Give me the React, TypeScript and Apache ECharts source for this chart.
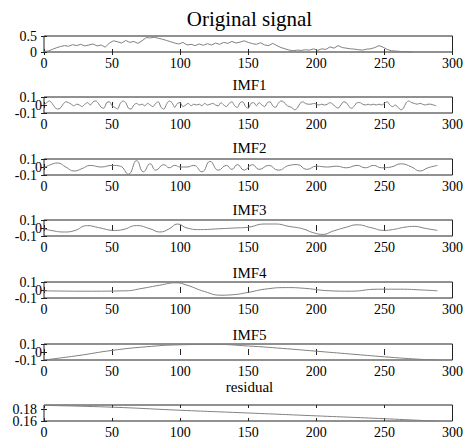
import React, { useEffect, useRef } from "react";
import * as echarts from "echarts";

const xTicks = [0, 50, 100, 150, 200, 250, 300];
const panelTitles = ["Original signal", "IMF1", "IMF2", "IMF3", "IMF4", "IMF5", "residual"];

const origStep = 3;
const origValues = [
  0.02, 0.03, 0.08, 0.13, 0.17, 0.2, 0.18, 0.23, 0.2, 0.24, 0.19, 0.22, 0.25, 0.19, 0.22, 0.15,
  0.28, 0.35, 0.32, 0.28, 0.36, 0.3, 0.33, 0.27, 0.35, 0.45, 0.44, 0.46, 0.43, 0.4, 0.36, 0.32,
  0.28, 0.25, 0.3, 0.22, 0.24, 0.2, 0.25, 0.21, 0.26, 0.22, 0.28, 0.24, 0.3, 0.27, 0.33, 0.28,
  0.31, 0.35, 0.3, 0.26, 0.24, 0.29, 0.22, 0.2, 0.27, 0.2, 0.14, 0.1, 0.06, 0.04, 0.06, 0.05,
  0.07, 0.06, 0.1, 0.05, 0.1, 0.08, 0.16, 0.12, 0.2, 0.14, 0.12, 0.1, 0.09, 0.07, 0.06, 0.09,
  0.1, 0.14, 0.2, 0.15, 0.08, 0.04, 0.03, 0.02, 0.01, 0.01, 0.0,
];

const imf1Step = 2;
const imf1Values = [
  0.0, 0.03, 0.05, 0.02, -0.03, -0.05, -0.04, 0.01, 0.04, 0.03, 0.01, -0.01, 0.01, 0.0, -0.02, 0.01,
  0.03, 0.0, 0.04, 0.05, 0.02, -0.03, -0.04, 0.03, 0.04, -0.01, -0.03, -0.05, 0.02, 0.05, 0.03, -0.04,
  -0.05, 0.0, 0.02, 0.0, 0.01, -0.01, 0.02, 0.0, -0.02, 0.02, 0.04, -0.03, -0.05, 0.01, 0.05, 0.03,
  -0.03, 0.02, 0.03, -0.02, 0.0, 0.02, -0.01, 0.01, 0.0, 0.01, -0.01, 0.02, 0.0, 0.01, 0.02, 0.0,
  -0.01, 0.03, 0.0, -0.02, 0.02, 0.04, -0.01, -0.03, 0.03, 0.04, -0.02, -0.04, 0.02, 0.03, -0.01, 0.03,
  0.0, -0.02, 0.03, 0.04, -0.01, -0.03, 0.02, 0.05, 0.04, 0.0, -0.02, -0.03, -0.06, -0.04, 0.02, 0.04,
  0.02, 0.01, 0.01, 0.02, 0.01, 0.0, 0.01, 0.0, 0.01, 0.03, 0.01, -0.02, -0.04, 0.0, 0.04, 0.03,
  -0.02, -0.04, -0.01, 0.03, 0.03, 0.01, 0.0, 0.01, 0.0, 0.01, 0.0, 0.01, 0.0, 0.02, 0.04, 0.0,
  -0.02, 0.0, -0.03, -0.06, -0.04, 0.03, 0.05, 0.03, 0.02, 0.01, 0.02, 0.01, 0.0, 0.01, 0.01, 0.0,
  -0.01,
];

const imf2X = [0, 5, 10, 16, 22, 28, 34, 42, 50, 56, 62, 68, 73, 78, 82, 88, 92, 96, 100, 105, 110, 116, 122, 128, 134, 138, 142, 147, 153, 158, 165, 172, 180, 186, 193, 200, 208, 215, 222, 230, 236, 242, 248, 255, 262, 270, 276, 282, 289];
const imf2Y = [-0.01, 0.03, 0.05, 0.0, -0.05, -0.02, 0.02, 0.0, 0.02, 0.01, -0.09, 0.08, -0.06, 0.04, -0.04, 0.03, -0.01, 0.02, 0.0, 0.0, 0.02, -0.06, 0.07, -0.04, 0.02, -0.03, 0.03, -0.04, 0.03, -0.03, 0.02, -0.04, 0.02, 0.03, -0.03, 0.01, 0.0, 0.01, -0.01, 0.02, -0.01, 0.02, -0.01, 0.0, 0.04, 0.0, -0.05, -0.01, 0.02];

const imf3X = [0, 5, 15, 22, 32, 40, 52, 58, 68, 78, 85, 92, 98, 105, 115, 128, 140, 150, 162, 170, 180, 190, 198, 205, 212, 222, 230, 240, 250, 256, 265, 272, 280, 289];
const imf3Y = [-0.01, -0.03, -0.05, -0.035, 0.03, 0.005, -0.03, -0.02, 0.03, -0.01, -0.05, -0.01, 0.05, 0.0, -0.02, -0.01, 0.0, 0.01, 0.05, 0.05, 0.02, -0.01, -0.06, -0.08, -0.04, 0.01, 0.04, 0.005, -0.03, -0.02, 0.01, 0.02, -0.005, -0.03];

const imf4X = [0, 30, 60, 72, 85, 97, 105, 118, 130, 138, 150, 162, 178, 192, 210, 225, 245, 262, 278, 289];
const imf4Y = [-0.01, -0.015, -0.01, 0.02, 0.06, 0.09, 0.06, -0.02, -0.065, -0.06, -0.03, 0.01, 0.03, 0.02, -0.01, -0.015, 0.01, 0.01, 0.0, -0.01];

const imf5X = [0, 25, 50, 75, 100, 125, 150, 175, 200, 225, 250, 275, 290];
const imf5Y = [-0.1, -0.045, 0.02, 0.065, 0.09, 0.095, 0.075, 0.045, 0.01, -0.025, -0.06, -0.09, -0.1];

const residualX = [0, 50, 100, 150, 200, 250, 290];
const residualY = [0.1873, 0.1842, 0.1788, 0.174, 0.169, 0.164, 0.1595];

const origYTicks = [0, 0.5];
const imfYTicks = [-0.1, 0, 0.1];
const residualYTicks = [0.16, 0.18];

export default function App() {
  const ref = useRef<HTMLDivElement>(null);
  useEffect(() => {
    document.body.style.margin = "0";
    if (!ref.current) return;
    const chart = echarts.init(ref.current, undefined, { renderer: "svg" });
    const FONT = "'Liberation Serif', 'Times New Roman', serif";
    const tops = [36, 97, 159, 220, 282, 344, 405];
    const titleCenters = [19, 85, 148, 210, 273, 335, 386.5];
    const H = 16;
    const ranges = [
      { min: 0, max: 0.5, ticks: origYTicks },
      { min: -0.1, max: 0.1, ticks: imfYTicks },
      { min: -0.1, max: 0.1, ticks: imfYTicks },
      { min: -0.1, max: 0.1, ticks: imfYTicks },
      { min: -0.1, max: 0.1, ticks: imfYTicks },
      { min: -0.1, max: 0.1, ticks: imfYTicks },
      { min: 0.16, max: 0.188, ticks: residualYTicks },
    ];
    const seriesData: number[][][] = [
      origValues.map((v, i) => [i * origStep, v]),
      imf1Values.map((v, i) => [i * imf1Step, v]),
      imf2X.map((x, i) => [x, imf2Y[i]]),
      imf3X.map((x, i) => [x, imf3Y[i]]),
      imf4X.map((x, i) => [x, imf4Y[i]]),
      imf5X.map((x, i) => [x, imf5Y[i]]),
      residualX.map((x, i) => [x, residualY[i]]),
    ];
    const smoothness = [false, 0.3, 0.5, 0.5, 0.5, 0.5, 0.5];
    const tickStyle = { color: "#222", width: 1 };
    const grid: any[] = [];
    const xAxis: any[] = [];
    const yAxis: any[] = [];
    const series: any[] = [];
    const title: any[] = [];
    for (let i = 0; i < 7; i++) {
      grid.push({
        left: 44,
        right: 11,
        top: tops[i],
        height: H,
        show: true,
        borderColor: "#222",
        borderWidth: 1,
        backgroundColor: "transparent",
      });
      title.push({
        text: panelTitles[i],
        left: 249.5,
        top: titleCenters[i] - (i === 0 ? 10.5 : 7.5),
        textAlign: "center",
        padding: 0,
        textStyle: {
          fontFamily: FONT,
          fontWeight: "normal",
          fontSize: i === 0 ? 21 : 15,
          color: "#000",
        },
      });
      const xBase = {
        type: "value",
        gridIndex: i,
        min: 0,
        max: 300,
        interval: 50,
        axisLine: { show: false },
        splitLine: { show: false },
        axisTick: { show: true, inside: true, length: 3, lineStyle: tickStyle, customValues: xTicks },
      };
      const xIndex = xAxis.length;
      xAxis.push({
        ...xBase,
        position: "bottom",
        axisLabel: {
          show: true,
          customValues: xTicks,
          showMinLabel: true,
          showMaxLabel: true,
          hideOverlap: false,
          fontFamily: FONT,
          fontSize: 14,
          color: "#000",
          margin: 4,
        },
      });
      xAxis.push({ ...xBase, position: "top", axisLabel: { show: false } });
      const r = ranges[i];
      const yBase = {
        type: "value",
        gridIndex: i,
        min: r.min,
        max: r.max,
        axisLine: { show: false },
        splitLine: { show: false },
      };
      const yIndex = yAxis.length;
      yAxis.push({
        ...yBase,
        position: "left",
        axisTick: { show: true, inside: true, length: 3, lineStyle: tickStyle, customValues: r.ticks },
        axisLabel: { show: false },
      });
      yAxis.push({
        ...yBase,
        position: "right",
        axisTick: { show: true, inside: true, length: 3, lineStyle: tickStyle, customValues: r.ticks },
        axisLabel: { show: false },
      });
      // one label-only axis per tick value, so overlapping labels all stay visible
      r.ticks.forEach((v) => {
        const isImfZero = i >= 1 && i <= 5 && v === 0;
        yAxis.push({
          ...yBase,
          position: "left",
          axisTick: { show: false },
          axisLabel: {
            show: true,
            customValues: [v],
            showMinLabel: true,
            showMaxLabel: true,
            hideOverlap: false,
            fontFamily: FONT,
            fontSize: 14,
            color: "#000",
            margin: isImfZero ? 2 : 7,
          },
        });
      });
      series.push({
        type: "line",
        xAxisIndex: xIndex,
        yAxisIndex: yIndex,
        data: seriesData[i],
        showSymbol: false,
        smooth: smoothness[i],
        lineStyle: { color: "#808080", width: 1 },
        silent: true,
      });
    }
    chart.setOption({
      animation: false,
      backgroundColor: "#fff",
      textStyle: { fontFamily: FONT },
      title,
      grid,
      xAxis,
      yAxis,
      series,
    });
    return () => chart.dispose();
  }, []);
  return <div ref={ref} style={{ width: 466, height: 447 }} />;
}
